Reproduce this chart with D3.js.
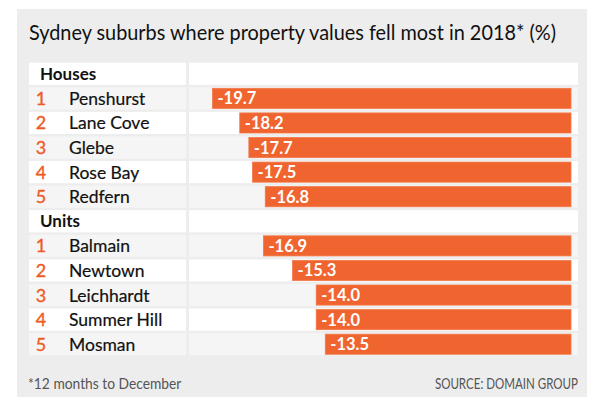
<!DOCTYPE html>
<html><head><meta charset="utf-8">
<script src="https://cdn.jsdelivr.net/npm/d3@7"></script>
<style>body{margin:0;background:#fff;} svg{display:block;font-family:Lato, "Open Sans", sans-serif;}</style>
</head><body>
<script>
const title = "Sydney suburbs where property values fell most in 2018* (%)";
const groups = ["Houses", "Units"];
const houseSuburbs = ["Penshurst", "Lane Cove", "Glebe", "Rose Bay", "Redfern"];
const houseValues = [-19.7, -18.2, -17.7, -17.5, -16.8];
const unitSuburbs = ["Balmain", "Newtown", "Leichhardt", "Summer Hill", "Mosman"];
const unitValues = [-16.9, -15.3, -14.0, -14.0, -13.5];
const footnote = "*12 months to December";
const source = "SOURCE: DOMAIN GROUP";

const W = 600, H = 413;
const svg = d3.select("body").append("svg").attr("width", W).attr("height", H);

const rows = [];
[[groups[0], houseSuburbs, houseValues], [groups[1], unitSuburbs, unitValues]].forEach(([g, names, vals]) => {
  rows.push({type: "header", label: g});
  names.forEach((n, i) => rows.push({type: "item", rank: i + 1, name: n, value: vals[i]}));
});
rows.forEach(d => { if (d.type === "item") d.alt = (d.rank % 2 === 1); });

svg.append("rect").attr("x", 17).attr("y", 9).attr("width", 570).attr("height", 388).attr("fill", "#ededed");

svg.append("text").attr("x", 29).attr("y", 40).attr("font-size", 21).attr("fill", "#111")
  .attr("textLength", 527).attr("lengthAdjust", "spacingAndGlyphs").text(title);

const y = d3.scaleBand().domain(d3.range(rows.length)).range([61.5, 356.5]).paddingInner(0.1).paddingOuter(0.05);
const x = d3.scaleLinear().domain([-20, 0]).range([207, 571]);
const hb = y.bandwidth();

const rowG = svg.selectAll("g.row").data(rows).join("g").attr("class", "row")
  .attr("transform", (d, i) => `translate(0,${y(i)})`);

const fillFor = d => d.type === "header" ? "#fff" : (d.alt ? "#f5f5f5" : "#fff");
rowG.append("rect").attr("x", 29).attr("width", 157).attr("height", hb).attr("fill", fillFor);
rowG.append("rect").attr("x", 189).attr("width", 389).attr("height", hb).attr("fill", fillFor);

rowG.filter(d => d.type === "header").append("text")
  .attr("x", 40).attr("y", hb / 2 + 6).attr("font-size", 17).attr("font-weight", "bold").attr("fill", "#111")
  .text(d => d.label);

const items = rowG.filter(d => d.type === "item");
items.append("text").attr("x", 41).attr("y", hb / 2 + 6.5).attr("text-anchor", "middle")
  .attr("font-size", 18).attr("fill", "#ee5a24").attr("stroke", "#ee5a24").attr("stroke-width", 0.35).text(d => d.rank);
items.append("text").attr("x", 69).attr("y", hb / 2 + 6.5)
  .attr("font-size", 17.5).attr("fill", "#111").attr("stroke", "#111").attr("stroke-width", 0.2).text(d => d.name);

items.append("rect").attr("x", d => x(d.value)).attr("y", 1).attr("height", hb - 2)
  .attr("width", d => x(0) - x(d.value)).attr("fill", "#f0652f").attr("stroke", "#f07a4a").attr("stroke-width", 0.8);
items.append("text").attr("x", d => x(d.value) + 5).attr("y", hb / 2 + 6)
  .attr("font-size", 16.5).attr("font-weight", "bold").attr("fill", "#fff").text(d => d.value.toFixed(1));

svg.append("g").attr("transform", "translate(28,389) scale(0.92,1)")
  .append("text").attr("font-size", 15).attr("fill", "#555").text(footnote);
svg.append("g").attr("transform", "translate(578,389) scale(0.77,1)")
  .append("text").attr("text-anchor", "end").attr("font-size", 15).attr("fill", "#555").text(source);
</script>
</body></html>
